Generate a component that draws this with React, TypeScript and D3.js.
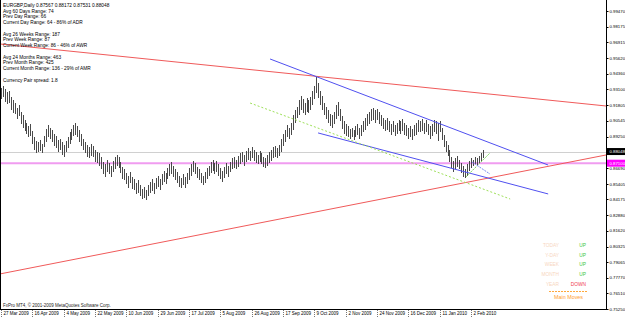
import { useEffect, useRef } from "react";
import * as d3 from "d3";

// EURGBP daily bars (high / low)
const highs = [
  0.932, 0.934, 0.931, 0.929, 0.93, 0.925, 0.922, 0.92, 0.916, 0.918,
  0.913, 0.91, 0.906, 0.904, 0.901, 0.903, 0.897, 0.892, 0.889, 0.888,
  0.89, 0.887, 0.893, 0.899, 0.902, 0.9, 0.898, 0.895, 0.893, 0.89,
  0.891, 0.888, 0.886, 0.889, 0.892, 0.896, 0.899, 0.902, 0.904, 0.901,
  0.898, 0.895, 0.891, 0.888, 0.886, 0.884, 0.887, 0.885, 0.882, 0.88,
  0.879, 0.876, 0.872, 0.87, 0.874, 0.871, 0.869, 0.873, 0.876, 0.878,
  0.876, 0.872, 0.868, 0.866, 0.863, 0.861, 0.864, 0.86, 0.858, 0.855,
  0.857, 0.853, 0.85, 0.852, 0.849, 0.853, 0.856, 0.858, 0.855, 0.859,
  0.861, 0.858, 0.862, 0.865, 0.863, 0.867, 0.87, 0.872, 0.869, 0.866,
  0.864, 0.861, 0.859, 0.862, 0.86, 0.863, 0.867, 0.87, 0.873, 0.871,
  0.868, 0.866, 0.863, 0.861, 0.864, 0.867, 0.869, 0.872, 0.874, 0.871,
  0.873, 0.87, 0.867, 0.865, 0.868, 0.871, 0.869, 0.872, 0.875, 0.876,
  0.874, 0.877, 0.879, 0.88, 0.878, 0.881, 0.883, 0.881, 0.884, 0.882,
  0.88, 0.878, 0.881, 0.879, 0.876, 0.875, 0.878, 0.88, 0.882, 0.884,
  0.885, 0.883, 0.886, 0.891, 0.895, 0.898, 0.902, 0.9, 0.904, 0.91,
  0.914, 0.917, 0.922, 0.926, 0.923, 0.92, 0.924, 0.922, 0.925, 0.93,
  0.934, 0.941, 0.936, 0.93, 0.926, 0.92, 0.917, 0.914, 0.911, 0.91,
  0.913, 0.918, 0.921, 0.915, 0.909, 0.905, 0.903, 0.901, 0.899, 0.9,
  0.898, 0.901, 0.903, 0.9, 0.902, 0.905, 0.908, 0.911, 0.913, 0.915,
  0.916, 0.914, 0.915, 0.913, 0.91, 0.908, 0.906, 0.908, 0.905, 0.903,
  0.905, 0.902, 0.904, 0.906, 0.905, 0.907, 0.904, 0.902, 0.9, 0.901,
  0.899, 0.902, 0.904, 0.906, 0.905, 0.907, 0.904, 0.906, 0.903, 0.901,
  0.903, 0.906, 0.905, 0.904, 0.905, 0.9, 0.894, 0.889, 0.886, 0.882,
  0.876, 0.873, 0.875, 0.877, 0.874, 0.871, 0.869, 0.866, 0.87, 0.873,
  0.875, 0.874, 0.876, 0.875, 0.877, 0.879, 0.88172,
];
const lows = [
  0.923, 0.925, 0.921, 0.919, 0.92, 0.914, 0.912, 0.911, 0.907, 0.909,
  0.903, 0.9, 0.897, 0.895, 0.892, 0.893, 0.887, 0.882, 0.879, 0.88,
  0.881, 0.879, 0.884, 0.888, 0.892, 0.891, 0.888, 0.885, 0.883, 0.88,
  0.882, 0.878, 0.876, 0.88, 0.883, 0.887, 0.89, 0.893, 0.894, 0.892,
  0.888, 0.885, 0.882, 0.879, 0.876, 0.875, 0.877, 0.876, 0.872, 0.871,
  0.869, 0.866, 0.862, 0.86, 0.864, 0.862, 0.86, 0.864, 0.866, 0.869,
  0.867, 0.863, 0.858, 0.857, 0.854, 0.851, 0.855, 0.85, 0.849, 0.846,
  0.847, 0.844, 0.842, 0.843, 0.841, 0.844, 0.847, 0.848, 0.846, 0.85,
  0.852, 0.849, 0.853, 0.856, 0.854, 0.858, 0.861, 0.862, 0.86, 0.857,
  0.855, 0.852, 0.851, 0.853, 0.851, 0.854, 0.857, 0.861, 0.864, 0.862,
  0.859, 0.857, 0.855, 0.853, 0.855, 0.858, 0.861, 0.863, 0.865, 0.862,
  0.864, 0.861, 0.858, 0.856, 0.859, 0.862, 0.86, 0.864, 0.866, 0.867,
  0.866, 0.868, 0.87, 0.872, 0.869, 0.872, 0.874, 0.873, 0.875, 0.873,
  0.871, 0.87, 0.872, 0.87, 0.868, 0.867, 0.869, 0.871, 0.873, 0.875,
  0.876, 0.875, 0.877, 0.88, 0.885, 0.888, 0.892, 0.891, 0.894, 0.898,
  0.904, 0.908, 0.91, 0.914, 0.912, 0.91, 0.913, 0.912, 0.914, 0.918,
  0.923, 0.928, 0.924, 0.918, 0.914, 0.91, 0.907, 0.904, 0.901, 0.9,
  0.903, 0.907, 0.909, 0.905, 0.899, 0.895, 0.893, 0.892, 0.891, 0.892,
  0.89, 0.892, 0.894, 0.891, 0.893, 0.896, 0.898, 0.901, 0.903, 0.905,
  0.906, 0.904, 0.906, 0.903, 0.901, 0.899, 0.897, 0.898, 0.896, 0.894,
  0.896, 0.893, 0.895, 0.897, 0.895, 0.897, 0.894, 0.893, 0.891, 0.892,
  0.89, 0.893, 0.894, 0.896, 0.896, 0.897, 0.895, 0.896, 0.894, 0.891,
  0.893, 0.896, 0.895, 0.889, 0.896, 0.89, 0.884, 0.88, 0.877, 0.872,
  0.867, 0.864, 0.866, 0.868, 0.866, 0.863, 0.86, 0.859, 0.861, 0.865,
  0.867, 0.869, 0.87, 0.869, 0.871, 0.873, 0.87531,
];

const dateLabels = [
  "27 Mar 2009", "16 Apr 2009", "4 May 2009", "22 May 2009", "10 Jun 2009",
  "29 Jun 2009", "17 Jul 2009", "5 Aug 2009", "26 Aug 2009", "17 Sep 2009",
  "9 Oct 2009", "2 Nov 2009", "24 Nov 2009", "16 Dec 2009", "11 Jan 2010",
  "2 Feb 2010",
];
const barsPerLabel = 16;

const priceTicks = [
  0.9947, 0.98175, 0.96915, 0.9562, 0.9436, 0.931, 0.91805, 0.90545, 0.8925,
  0.8796, 0.8669, 0.85405, 0.84175, 0.8288, 0.8162, 0.80325, 0.79065, 0.7777,
  0.7651, 0.7525,
];

const quote = [0.87567, 0.88172, 0.87531, 0.88048]; // open high low close
const pivotLevel = 0.871;

const infoLines = [
  "Avg 60 Days Range: 74",
  "Prev Day Range: 66",
  "Current Day Range: 64 - 86% of ADR",
  "",
  "Avg 26 Weeks Range: 187",
  "Prev Week Range: 87",
  "Current Week Range: 86 - 46% of AWR",
  "",
  "Avg 24 Months Range: 463",
  "Prev Month Range: 425",
  "Current Month Range: 136 - 29% of AMR",
  "",
  "Currency Pair spread: 1.8",
];

// trend lines as [bar index, price] pairs
const redUpper = [[-0.5, 0.9679], [309, 0.9175]];
const redLower = [[-0.5, 0.781], [309, 0.8777]];
const blueUpper = [[137.4, 0.9557], [279.4, 0.8695]];
const blueLower = [[161.9, 0.8956], [279.4, 0.846]];
const greenLong = [[127.2, 0.9199], [260, 0.8419]];
const greenShort = [[237.5, 0.86], [249.7, 0.8793]];
const blueShort = [[240.5, 0.872], [249.7, 0.8622]];

const moveNames = ["TODAY", "Y-DAY", "WEEK", "MONTH", "YEAR"];
const moveDirs = ["UP", "UP", "UP", "UP", "DOWN"];

const App = () => {
  const ref = useRef(null);

  useEffect(() => {
    const w = 625;
    const h = 319;
    const right = 606;
    const bottom = 309;
    const font = "'Liberation Sans', Arial, sans-serif";

    const svg = d3.select(ref.current).attr("width", w).attr("height", h);
    svg.selectAll("*").remove();

    const x = d3.scaleLinear().domain([0, 240]).range([1, 471]);
    const y = d3.scaleLinear().domain([0.7525, 0.9947]).range([bottom, 11]);
    const crisp = (v) => Math.round(v) + 0.5;

    svg.append("rect").attr("width", w).attr("height", h).attr("fill", "#fff");
    svg.append("clipPath").attr("id", "plot")
      .append("rect").attr("x", 0).attr("y", 0).attr("width", right).attr("height", bottom);

    const g = svg.append("g").attr("clip-path", "url(#plot)");

    // bid line and pivot level
    g.append("line")
      .attr("x1", 0).attr("x2", right)
      .attr("y1", crisp(y(quote[3]))).attr("y2", crisp(y(quote[3])))
      .attr("stroke", "#d0d0d0");
    g.append("line")
      .attr("x1", 0).attr("x2", right)
      .attr("y1", y(pivotLevel)).attr("y2", y(pivotLevel))
      .attr("stroke", "#f09cf0").attr("stroke-width", 2);

    // bars
    g.selectAll(".bar")
      .data(highs)
      .join("line")
      .attr("x1", (d, i) => crisp(x(i)))
      .attr("x2", (d, i) => crisp(x(i)))
      .attr("y1", (d) => y(d))
      .attr("y2", (d, i) => y(lows[i]))
      .attr("stroke", "#4a4a4a")
      .attr("stroke-width", 1)
      .attr("shape-rendering", "crispEdges");

    const seg = (pts, color, dash) => {
      g.append("line")
        .attr("x1", x(pts[0][0])).attr("y1", y(pts[0][1]))
        .attr("x2", x(pts[1][0])).attr("y2", y(pts[1][1]))
        .attr("stroke", color)
        .attr("stroke-width", 1)
        .attr("stroke-dasharray", dash || null);
    };
    seg(redUpper, "#f05a5a");
    seg(redLower, "#f05a5a");
    seg(blueUpper, "#5050f0");
    seg(blueLower, "#5050f0");
    seg(greenLong, "#9ee05a", "2,2");
    seg(greenShort, "#7ad65a", "2,1");
    seg(blueShort, "#7a8af0", "2,1");

    // frame
    svg.append("path")
      .attr("d", `M0.5,0V${bottom + 0.5}H${right + 0.5}V0`)
      .attr("fill", "none").attr("stroke", "#000").attr("shape-rendering", "crispEdges");

    // price axis
    const ticks = svg.append("g");
    priceTicks.forEach((p) => {
      const yy = y(p);
      ticks.append("line").attr("x1", right).attr("x2", right + 2.5)
        .attr("y1", crisp(yy)).attr("y2", crisp(yy)).attr("stroke", "#000");
      ticks.append("text").attr("x", right + 3.5).attr("y", yy + 1.5)
        .attr("font-family", font).attr("font-size", 4.3).attr("fill", "#000")
        .text(p.toFixed(5));
    });

    const tag = (p, fill) => {
      const yy = y(p);
      svg.append("rect").attr("x", right + 1).attr("y", yy - 3.5)
        .attr("width", w - right - 1).attr("height", 7).attr("fill", fill);
      svg.append("text").attr("x", right + 3.5).attr("y", yy + 1.5)
        .attr("font-family", font).attr("font-size", 4.3).attr("fill", "#fff")
        .text(p.toFixed(5));
    };
    tag(pivotLevel, "#ff00ff");
    tag(quote[3], "#000");

    // time axis
    dateLabels.forEach((lbl, k) => {
      const xx = crisp(x(k * barsPerLabel));
      svg.append("line").attr("x1", xx).attr("x2", xx)
        .attr("y1", bottom + 1).attr("y2", bottom + 8)
        .attr("stroke", "#777").attr("stroke-dasharray", "1,1");
      svg.append("text").attr("x", xx + 2).attr("y", bottom + 6)
        .attr("font-family", font).attr("font-size", 4.5).attr("fill", "#000")
        .text(lbl);
    });

    svg.append("text").attr("x", 3).attr("y", bottom - 2.5)
      .attr("font-family", font).attr("font-size", 4.5).attr("fill", "#222")
      .text("FxPro MT4, © 2001-2009 MetaQuotes Software Corp.");

    // info block
    const info = svg.append("g").attr("font-family", font).attr("font-size", 4.8).attr("fill", "#000");
    info.append("text").attr("x", 3).attr("y", 6.8)
      .text(`EURGBP,Daily  ${quote.map((q) => q.toFixed(5)).join(" ")}`);
    infoLines.forEach((t, i) => {
      if (!t) return;
      info.append("text").attr("x", 3).attr("y", 6.8 + (i + 1) * 5.75).text(t);
    });

    // main moves panel
    const mm = svg.append("g").attr("font-family", font).attr("font-size", 4.8);
    moveNames.forEach((n, i) => {
      const yy = 247 + i * 9.7;
      mm.append("text").attr("x", 559).attr("y", yy).attr("text-anchor", "end")
        .attr("fill", "#f7d6c0").text(n);
      mm.append("text").attr("x", 586).attr("y", yy).attr("text-anchor", "end")
        .attr("fill", moveDirs[i] === "UP" ? "#3cc83c" : "#f04050").text(moveDirs[i]);
    });
    mm.append("line").attr("x1", 549).attr("x2", 588).attr("y1", 291.5).attr("y2", 291.5)
      .attr("stroke", "#ffa83c").attr("stroke-dasharray", "2,1");
    mm.append("text").attr("x", 568.5).attr("y", 299).attr("text-anchor", "middle")
      .attr("fill", "#ffa030").attr("font-size", 5.4).text("Main Moves");
  }, []);

  return (
    <svg ref={ref} style={{ position: "absolute", left: 0, top: 0, display: "block" }}></svg>
  );
};

export default App;
